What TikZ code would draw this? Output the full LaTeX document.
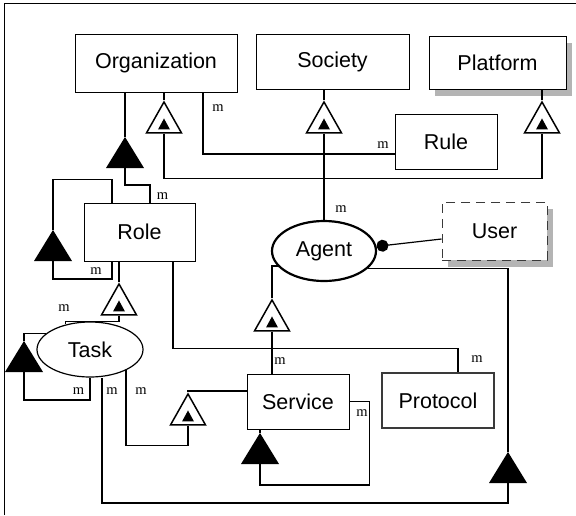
\documentclass[tikz,border=0pt]{standalone}
\usepackage{fontspec}
\setsansfont{Liberation Sans}
\newfontfamily\multfont{Liberation Serif}
\usepackage{tikz}
\usetikzlibrary{arrows.meta,positioning,shapes.geometric,shadows}
\usepackage{xcolor}
\definecolor{umlgray}{HTML}{3A3A3A}
\definecolor{umlshadow}{HTML}{B4B4B4}

\begin{document}
\begin{tikzpicture}[
    x=1pt, y=-1pt,
    cls/.style={rectangle, draw, fill=white, line width=1pt,
                minimum width=#1, minimum height=55pt, inner sep=0pt,
                font=\fontsize{21.5}{24}\selectfont\sffamily},
    cls/.default=102pt,
    ent/.style={ellipse, draw, fill=white, line width=1.2pt, inner sep=0pt,
                font=\fontsize{21.5}{24}\selectfont\sffamily},
    shadowed/.style={drop shadow={shadow xshift=6pt, shadow yshift=-7pt,
                     fill=umlshadow, opacity=1}},
    agg/.style={isosceles triangle, isosceles triangle stretches,
                shape border rotate=90, fill=black, inner sep=0pt, outer sep=0pt,
                minimum width=38pt, minimum height=31pt},
    gen/.style={isosceles triangle, isosceles triangle stretches,
                shape border rotate=90, draw, fill=white, line width=1.5pt,
                inner sep=0pt, minimum width=35pt, minimum height=31pt,
                path picture={\fill[black] (path picture bounding box.south) ++(-6pt,3.5pt)
                              -- ++(12pt,0pt) -- ++(-6pt,11pt) -- cycle;}},
    conn/.style={line width=1.2pt},
    mult/.style={inner sep=0pt, font=\fontsize{14.5}{15}\selectfont\multfont}
]

\useasboundingbox (0,0) rectangle (576,515);
\draw[line width=1pt] (4,515) -- (4,3) -- (576,3);

\node[cls=162pt, minimum height=58pt] (org) at (156,63) {Organization};
\node[cls=153pt] (soc) at (332.5,61.5) {Society};
\node[cls=137pt, minimum height=53pt, shadowed] (plat) at (497.5,62.5) {Platform};
\node[cls=102pt] (rule) at (446,141.5) {Rule};
\node[cls=105pt, minimum height=58pt, shadowed, draw=umlgray,
      dash pattern=on 9pt off 6pt] (user) at (494.5,231) {User};
\node[ent, minimum width=104pt, minimum height=60pt, line width=2.2pt] (agent) at (324,251) {Agent};
\node[cls=111pt, minimum height=58pt] (role) at (139.5,232) {Role};
\node[ent, minimum width=106pt, minimum height=55pt] (task) at (90,349.5) {Task};
\node[cls=102pt] (serv) at (298,401.5) {Service};
\node[cls=112pt, line width=2.6pt, draw=umlgray] (prot) at (438,400.5) {Protocol};

\node[gen, anchor=apex] (gO) at (164,100) {};
\node[gen, anchor=apex] (gS) at (324,100) {};
\node[gen, anchor=apex] (gP) at (542,100) {};
\node[gen, anchor=apex] (gR) at (119,282) {};
\node[gen, anchor=apex] (gA) at (272,298) {};
\node[gen, anchor=apex] (gT) at (188,392) {};

\node[agg, anchor=apex] (tA) at (125,137) {};
\node[agg, anchor=apex] (tB) at (53,230) {};
\node[agg, anchor=apex] (tC) at (24,341) {};
\node[agg, anchor=apex] (tD) at (260,433) {};
\node[agg, anchor=apex] (tE) at (508,452) {};

\draw[conn] (org.south -| gO.apex) -- (gO.apex);
\draw[conn] (soc.south -| gS.apex) -- (gS.apex);
\draw[conn] (plat.south -| gP.apex) -- (gP.apex);
\draw[conn] (gO.lower side) -- ++(0,45) -| (gP.lower side);
\draw[conn] (gS.lower side) -- (agent.north);
\draw[conn] ([xshift=47pt]org.south) |- ([yshift=-12.5pt]rule.west);

\draw[conn] (org.south -| tA.apex) -- (tA.apex);
\draw[conn] (tA.lower side) -- ++(0,17) -| ([xshift=10.5pt]role.north);
\draw[conn] ([xshift=-27.5pt]role.north) -- ++(0,-23) -| (tB.apex);
\draw[conn] (tB.lower side) -- ++(0,18) -| ([xshift=-27.5pt]role.south);

\draw[conn, {Circle[length=12pt]}-] (agent.5) -- ([yshift=-8pt]user.west);
\draw[conn] (tE.apex) |- (agent.-22);
\draw[conn] (tE.lower side) -- ++(0,20) -| ([xshift=12pt]task.south);
\draw[conn] (gA.apex) |- (agent.198);
\draw[conn] (gA.lower side) -- (gA.lower side |- serv.north);
\draw[conn] ([xshift=33.5pt]role.south) -- ++(0,87) -| ([xshift=20pt]prot.north);

\draw[conn] (role.south -| gR.apex) -- (gR.apex);
\draw[conn] (gR.lower side) -- ++(0,6) -| (task.134);
\draw[conn] (task.160) -| (tC.apex);
\draw[conn] (tC.lower side) -- ++(0,28) -| (task.south);
\draw[conn] (task.-30) |- ([yshift=-20pt]gT.lower side) -- (gT.lower side);
\draw[conn] (gT.apex) |- ([yshift=10.5pt]serv.west);
\draw[conn] (serv.east) -- ++(20,0) |- ([yshift=-21pt]tD.lower side) -- (tD.lower side);
\draw[conn] (tD.apex) -- (tD.apex |- serv.south);

\node[mult] (m1) at (162.5,196) {m};
\node[mult] (m2) at (96,271) {m};
\node[mult] (m3) at (218,108) {m};
\node[mult] (m4) at (383,145) {m};
\node[mult] (m5) at (341,209) {m};
\node[mult] (m6) at (64,308) {m};
\node[mult] (m7) at (78.5,391) {m};
\node[mult] (m8) at (112,391) {m};
\node[mult] (m9) at (141,391) {m};
\node[mult] (m10) at (280,361) {m};
\node[mult] (m11) at (477,359) {m};
\node[mult] (m12) at (362,413) {m};

\end{tikzpicture}
\end{document}
